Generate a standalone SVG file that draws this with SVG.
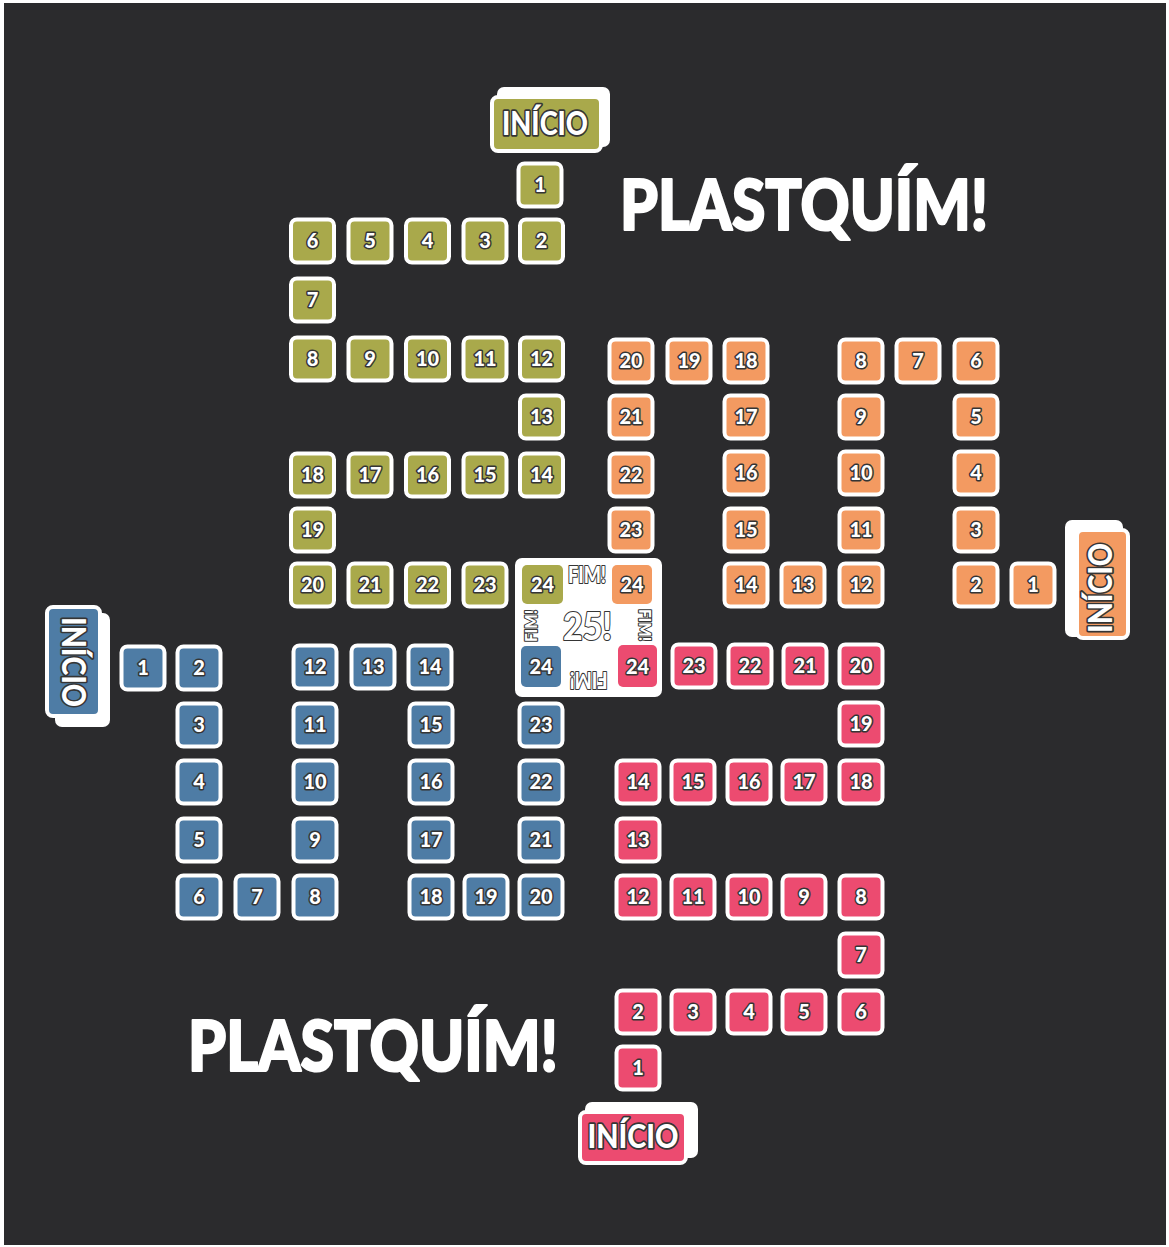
<svg xmlns="http://www.w3.org/2000/svg" width="1169" height="1247" viewBox="0 0 1169 1247">
<defs>
<style>
.t rect{stroke:#fff;stroke-width:4}
.g{fill:#a9a94b}.o{fill:#f39a61}.b{fill:#4e7ca5}.r{fill:#ec4b70}
.n{font-family:Lato,"Open Sans","DejaVu Sans",sans-serif;font-weight:900;font-size:20px;fill:#fff;stroke:#353535;stroke-width:3px;paint-order:stroke;text-anchor:middle;stroke-linejoin:round}
.lbl{font-family:Lato,"Open Sans","DejaVu Sans",sans-serif;font-weight:900;font-size:32px;fill:#fff;stroke:#353535;stroke-width:3.5px;paint-order:stroke;text-anchor:middle;stroke-linejoin:round}
.fim{font-family:Lato,"Open Sans","DejaVu Sans",sans-serif;font-weight:900;fill:#fff;stroke:#353535;stroke-width:2.2px;paint-order:stroke;text-anchor:middle;stroke-linejoin:round}
.title{font-family:Lato,"Open Sans","DejaVu Sans",sans-serif;font-weight:900;font-size:70px;fill:#fff;stroke:#fff;stroke-width:2.2px;stroke-linejoin:round}
.back{fill:#fff}
</style>
</defs>
<rect x="0" y="0" width="1169" height="1247" fill="#ffffff"/>
<rect x="4" y="3" width="1162" height="1242" fill="#2b2b2d"/>

<g id="connectors"></g>

<text class="title" x="620" y="230" textLength="368" lengthAdjust="spacingAndGlyphs">PLASTQUÍM!</text>
<text class="title" x="188" y="1071" textLength="370" lengthAdjust="spacingAndGlyphs">PLASTQUÍM!</text>

<!-- INICIO labels -->
<g id="inicio-green">
<rect class="back" x="497" y="87" width="113" height="60" rx="7"/>
<rect x="492" y="97" width="109" height="54" rx="6" class="g" stroke="#fff" stroke-width="4"/>
<text class="lbl" x="545" y="135" textLength="86" lengthAdjust="spacingAndGlyphs">INÍCIO</text>
</g>
<g id="inicio-orange">
<rect class="back" x="1065" y="520" width="58" height="117" rx="7"/>
<rect x="1077" y="530" width="51" height="108" rx="6" class="o" stroke="#fff" stroke-width="4"/>
<text class="lbl" transform="translate(1100,588) rotate(-90)" x="0" y="11.5" textLength="90" lengthAdjust="spacingAndGlyphs">INÍCIO</text>
</g>
<g id="inicio-blue">
<rect class="back" x="55" y="613" width="55" height="114" rx="7"/>
<rect x="47" y="607" width="53" height="109" rx="6" class="b" stroke="#fff" stroke-width="4"/>
<text class="lbl" transform="translate(73,662) rotate(90)" x="0" y="11.5" textLength="90" lengthAdjust="spacingAndGlyphs">INÍCIO</text>
</g>
<g id="inicio-red">
<rect class="back" x="585" y="1102" width="113" height="56" rx="7"/>
<rect x="580" y="1112" width="106" height="51" rx="6" class="r" stroke="#fff" stroke-width="4"/>
<text class="lbl" x="633" y="1148" textLength="91" lengthAdjust="spacingAndGlyphs">INÍCIO</text>
</g>

<!-- center -->
<g id="center">
<rect x="515" y="558" width="147" height="139" rx="7" fill="#fff"/>
<rect x="522" y="565" width="41" height="39" rx="5" class="g"/>
<text class="n" x="542.5" y="592" font-size="21">24</text>
<rect x="612" y="565" width="40" height="39" rx="5" class="o"/>
<text class="n" x="632" y="592" font-size="21">24</text>
<rect x="521" y="646" width="40" height="41" rx="5" class="b"/>
<text class="n" x="541" y="674" font-size="21">24</text>
<rect x="618" y="645" width="39" height="42" rx="5" class="r"/>
<text class="n" x="637.5" y="674" font-size="21">24</text>
<text class="fim" x="587" y="583" font-size="22" textLength="38" lengthAdjust="spacingAndGlyphs">FIM!</text>
<text class="fim" x="587.5" y="640" font-size="37" textLength="49" lengthAdjust="spacingAndGlyphs" stroke-width="2.8">25!</text>
<text class="fim" transform="translate(531,626) rotate(-90)" x="0" y="6" font-size="17" textLength="32" lengthAdjust="spacingAndGlyphs">FIM!</text>
<text class="fim" transform="translate(645,625) rotate(90)" x="0" y="6" font-size="17" textLength="32" lengthAdjust="spacingAndGlyphs">FIM!</text>
<text class="fim" transform="translate(588.5,679.5) rotate(180)" x="0" y="8" font-size="22" textLength="38" lengthAdjust="spacingAndGlyphs">FIM!</text>
</g>

<!-- green tiles -->
<g id="green" class="t">
<g id="g1" transform="translate(540,185)"><rect class="g" x="-21.5" y="-21.5" width="43" height="43" rx="6"/><text class="n" y="7">1</text></g>
<g id="g2" transform="translate(541.5,241)"><rect class="g" x="-21.5" y="-21.5" width="43" height="43" rx="6"/><text class="n" y="7">2</text></g>
<g id="g3" transform="translate(485,241)"><rect class="g" x="-21.5" y="-21.5" width="43" height="43" rx="6"/><text class="n" y="7">3</text></g>
<g id="g4" transform="translate(427.5,241)"><rect class="g" x="-21.5" y="-21.5" width="43" height="43" rx="6"/><text class="n" y="7">4</text></g>
<g id="g5" transform="translate(370,241)"><rect class="g" x="-21.5" y="-21.5" width="43" height="43" rx="6"/><text class="n" y="7">5</text></g>
<g id="g6" transform="translate(312.5,241)"><rect class="g" x="-21.5" y="-21.5" width="43" height="43" rx="6"/><text class="n" y="7">6</text></g>
<g id="g7" transform="translate(312.5,300)"><rect class="g" x="-21.5" y="-21.5" width="43" height="43" rx="6"/><text class="n" y="7">7</text></g>
<g id="g8" transform="translate(312.5,359)"><rect class="g" x="-21.5" y="-21.5" width="43" height="43" rx="6"/><text class="n" y="7">8</text></g>
<g id="g9" transform="translate(370,359)"><rect class="g" x="-21.5" y="-21.5" width="43" height="43" rx="6"/><text class="n" y="7">9</text></g>
<g id="g10" transform="translate(427.5,359)"><rect class="g" x="-21.5" y="-21.5" width="43" height="43" rx="6"/><text class="n" y="7">10</text></g>
<g id="g11" transform="translate(485,359)"><rect class="g" x="-21.5" y="-21.5" width="43" height="43" rx="6"/><text class="n" y="7">11</text></g>
<g id="g12" transform="translate(541.5,359)"><rect class="g" x="-21.5" y="-21.5" width="43" height="43" rx="6"/><text class="n" y="7">12</text></g>
<g id="g13" transform="translate(541.5,417)"><rect class="g" x="-21.5" y="-21.5" width="43" height="43" rx="6"/><text class="n" y="7">13</text></g>
<g id="g14" transform="translate(541.5,475)"><rect class="g" x="-21.5" y="-21.5" width="43" height="43" rx="6"/><text class="n" y="7">14</text></g>
<g id="g15" transform="translate(485,475)"><rect class="g" x="-21.5" y="-21.5" width="43" height="43" rx="6"/><text class="n" y="7">15</text></g>
<g id="g16" transform="translate(427.5,475)"><rect class="g" x="-21.5" y="-21.5" width="43" height="43" rx="6"/><text class="n" y="7">16</text></g>
<g id="g17" transform="translate(370,475)"><rect class="g" x="-21.5" y="-21.5" width="43" height="43" rx="6"/><text class="n" y="7">17</text></g>
<g id="g18" transform="translate(312.5,475)"><rect class="g" x="-21.5" y="-21.5" width="43" height="43" rx="6"/><text class="n" y="7">18</text></g>
<g id="g19" transform="translate(312.5,530)"><rect class="g" x="-21.5" y="-21.5" width="43" height="43" rx="6"/><text class="n" y="7">19</text></g>
<g id="g20" transform="translate(312.5,585)"><rect class="g" x="-21.5" y="-21.5" width="43" height="43" rx="6"/><text class="n" y="7">20</text></g>
<g id="g21" transform="translate(370,585)"><rect class="g" x="-21.5" y="-21.5" width="43" height="43" rx="6"/><text class="n" y="7">21</text></g>
<g id="g22" transform="translate(427.5,585)"><rect class="g" x="-21.5" y="-21.5" width="43" height="43" rx="6"/><text class="n" y="7">22</text></g>
<g id="g23" transform="translate(485,585)"><rect class="g" x="-21.5" y="-21.5" width="43" height="43" rx="6"/><text class="n" y="7">23</text></g>
</g>

<!-- orange tiles -->
<g id="orange" class="t">
<g id="o1" transform="translate(1033,585)"><rect class="o" x="-21.5" y="-21.5" width="43" height="43" rx="6"/><text class="n" y="7">1</text></g>
<g id="o2" transform="translate(976,585)"><rect class="o" x="-21.5" y="-21.5" width="43" height="43" rx="6"/><text class="n" y="7">2</text></g>
<g id="o3" transform="translate(976,530)"><rect class="o" x="-21.5" y="-21.5" width="43" height="43" rx="6"/><text class="n" y="7">3</text></g>
<g id="o4" transform="translate(976,473)"><rect class="o" x="-21.5" y="-21.5" width="43" height="43" rx="6"/><text class="n" y="7">4</text></g>
<g id="o5" transform="translate(976,417)"><rect class="o" x="-21.5" y="-21.5" width="43" height="43" rx="6"/><text class="n" y="7">5</text></g>
<g id="o6" transform="translate(976,361)"><rect class="o" x="-21.5" y="-21.5" width="43" height="43" rx="6"/><text class="n" y="7">6</text></g>
<g id="o7" transform="translate(918,361)"><rect class="o" x="-21.5" y="-21.5" width="43" height="43" rx="6"/><text class="n" y="7">7</text></g>
<g id="o8" transform="translate(861,361)"><rect class="o" x="-21.5" y="-21.5" width="43" height="43" rx="6"/><text class="n" y="7">8</text></g>
<g id="o9" transform="translate(861,417)"><rect class="o" x="-21.5" y="-21.5" width="43" height="43" rx="6"/><text class="n" y="7">9</text></g>
<g id="o10" transform="translate(861,473)"><rect class="o" x="-21.5" y="-21.5" width="43" height="43" rx="6"/><text class="n" y="7">10</text></g>
<g id="o11" transform="translate(861,530)"><rect class="o" x="-21.5" y="-21.5" width="43" height="43" rx="6"/><text class="n" y="7">11</text></g>
<g id="o12" transform="translate(861,585)"><rect class="o" x="-21.5" y="-21.5" width="43" height="43" rx="6"/><text class="n" y="7">12</text></g>
<g id="o13" transform="translate(803,585)"><rect class="o" x="-21.5" y="-21.5" width="43" height="43" rx="6"/><text class="n" y="7">13</text></g>
<g id="o14" transform="translate(746,585)"><rect class="o" x="-21.5" y="-21.5" width="43" height="43" rx="6"/><text class="n" y="7">14</text></g>
<g id="o15" transform="translate(746,530)"><rect class="o" x="-21.5" y="-21.5" width="43" height="43" rx="6"/><text class="n" y="7">15</text></g>
<g id="o16" transform="translate(746,473)"><rect class="o" x="-21.5" y="-21.5" width="43" height="43" rx="6"/><text class="n" y="7">16</text></g>
<g id="o17" transform="translate(746,417)"><rect class="o" x="-21.5" y="-21.5" width="43" height="43" rx="6"/><text class="n" y="7">17</text></g>
<g id="o18" transform="translate(746,361)"><rect class="o" x="-21.5" y="-21.5" width="43" height="43" rx="6"/><text class="n" y="7">18</text></g>
<g id="o19" transform="translate(689,361)"><rect class="o" x="-21.5" y="-21.5" width="43" height="43" rx="6"/><text class="n" y="7">19</text></g>
<g id="o20" transform="translate(631,361)"><rect class="o" x="-21.5" y="-21.5" width="43" height="43" rx="6"/><text class="n" y="7">20</text></g>
<g id="o21" transform="translate(631,417)"><rect class="o" x="-21.5" y="-21.5" width="43" height="43" rx="6"/><text class="n" y="7">21</text></g>
<g id="o22" transform="translate(631,475)"><rect class="o" x="-21.5" y="-21.5" width="43" height="43" rx="6"/><text class="n" y="7">22</text></g>
<g id="o23" transform="translate(631,530)"><rect class="o" x="-21.5" y="-21.5" width="43" height="43" rx="6"/><text class="n" y="7">23</text></g>
</g>

<!-- blue tiles -->
<g id="blue" class="t">
<g id="b1" transform="translate(143,668)"><rect class="b" x="-21.5" y="-21.5" width="43" height="43" rx="6"/><text class="n" y="7">1</text></g>
<g id="b2" transform="translate(199,668)"><rect class="b" x="-21.5" y="-21.5" width="43" height="43" rx="6"/><text class="n" y="7">2</text></g>
<g id="b3" transform="translate(199,725)"><rect class="b" x="-21.5" y="-21.5" width="43" height="43" rx="6"/><text class="n" y="7">3</text></g>
<g id="b4" transform="translate(199,782)"><rect class="b" x="-21.5" y="-21.5" width="43" height="43" rx="6"/><text class="n" y="7">4</text></g>
<g id="b5" transform="translate(199,840)"><rect class="b" x="-21.5" y="-21.5" width="43" height="43" rx="6"/><text class="n" y="7">5</text></g>
<g id="b6" transform="translate(199,897)"><rect class="b" x="-21.5" y="-21.5" width="43" height="43" rx="6"/><text class="n" y="7">6</text></g>
<g id="b7" transform="translate(257,897)"><rect class="b" x="-21.5" y="-21.5" width="43" height="43" rx="6"/><text class="n" y="7">7</text></g>
<g id="b8" transform="translate(315,897)"><rect class="b" x="-21.5" y="-21.5" width="43" height="43" rx="6"/><text class="n" y="7">8</text></g>
<g id="b9" transform="translate(315,840)"><rect class="b" x="-21.5" y="-21.5" width="43" height="43" rx="6"/><text class="n" y="7">9</text></g>
<g id="b10" transform="translate(315,782)"><rect class="b" x="-21.5" y="-21.5" width="43" height="43" rx="6"/><text class="n" y="7">10</text></g>
<g id="b11" transform="translate(315,725)"><rect class="b" x="-21.5" y="-21.5" width="43" height="43" rx="6"/><text class="n" y="7">11</text></g>
<g id="b12" transform="translate(315,667)"><rect class="b" x="-21.5" y="-21.5" width="43" height="43" rx="6"/><text class="n" y="7">12</text></g>
<g id="b13" transform="translate(373,667)"><rect class="b" x="-21.5" y="-21.5" width="43" height="43" rx="6"/><text class="n" y="7">13</text></g>
<g id="b14" transform="translate(430,667)"><rect class="b" x="-21.5" y="-21.5" width="43" height="43" rx="6"/><text class="n" y="7">14</text></g>
<g id="b15" transform="translate(431,725)"><rect class="b" x="-21.5" y="-21.5" width="43" height="43" rx="6"/><text class="n" y="7">15</text></g>
<g id="b16" transform="translate(431,782)"><rect class="b" x="-21.5" y="-21.5" width="43" height="43" rx="6"/><text class="n" y="7">16</text></g>
<g id="b17" transform="translate(431,840)"><rect class="b" x="-21.5" y="-21.5" width="43" height="43" rx="6"/><text class="n" y="7">17</text></g>
<g id="b18" transform="translate(431,897)"><rect class="b" x="-21.5" y="-21.5" width="43" height="43" rx="6"/><text class="n" y="7">18</text></g>
<g id="b19" transform="translate(486,897)"><rect class="b" x="-21.5" y="-21.5" width="43" height="43" rx="6"/><text class="n" y="7">19</text></g>
<g id="b20" transform="translate(541,897)"><rect class="b" x="-21.5" y="-21.5" width="43" height="43" rx="6"/><text class="n" y="7">20</text></g>
<g id="b21" transform="translate(541,840)"><rect class="b" x="-21.5" y="-21.5" width="43" height="43" rx="6"/><text class="n" y="7">21</text></g>
<g id="b22" transform="translate(541,782)"><rect class="b" x="-21.5" y="-21.5" width="43" height="43" rx="6"/><text class="n" y="7">22</text></g>
<g id="b23" transform="translate(541,725)"><rect class="b" x="-21.5" y="-21.5" width="43" height="43" rx="6"/><text class="n" y="7">23</text></g>
</g>

<!-- red tiles -->
<g id="red" class="t">
<g id="r1" transform="translate(638,1068)"><rect class="r" x="-21.5" y="-21.5" width="43" height="43" rx="6"/><text class="n" y="7">1</text></g>
<g id="r2" transform="translate(638,1012)"><rect class="r" x="-21.5" y="-21.5" width="43" height="43" rx="6"/><text class="n" y="7">2</text></g>
<g id="r3" transform="translate(693,1012)"><rect class="r" x="-21.5" y="-21.5" width="43" height="43" rx="6"/><text class="n" y="7">3</text></g>
<g id="r4" transform="translate(749,1012)"><rect class="r" x="-21.5" y="-21.5" width="43" height="43" rx="6"/><text class="n" y="7">4</text></g>
<g id="r5" transform="translate(804,1012)"><rect class="r" x="-21.5" y="-21.5" width="43" height="43" rx="6"/><text class="n" y="7">5</text></g>
<g id="r6" transform="translate(861,1012)"><rect class="r" x="-21.5" y="-21.5" width="43" height="43" rx="6"/><text class="n" y="7">6</text></g>
<g id="r7" transform="translate(861,955)"><rect class="r" x="-21.5" y="-21.5" width="43" height="43" rx="6"/><text class="n" y="7">7</text></g>
<g id="r8" transform="translate(861,897)"><rect class="r" x="-21.5" y="-21.5" width="43" height="43" rx="6"/><text class="n" y="7">8</text></g>
<g id="r9" transform="translate(804,897)"><rect class="r" x="-21.5" y="-21.5" width="43" height="43" rx="6"/><text class="n" y="7">9</text></g>
<g id="r10" transform="translate(749,897)"><rect class="r" x="-21.5" y="-21.5" width="43" height="43" rx="6"/><text class="n" y="7">10</text></g>
<g id="r11" transform="translate(693,897)"><rect class="r" x="-21.5" y="-21.5" width="43" height="43" rx="6"/><text class="n" y="7">11</text></g>
<g id="r12" transform="translate(638,897)"><rect class="r" x="-21.5" y="-21.5" width="43" height="43" rx="6"/><text class="n" y="7">12</text></g>
<g id="r13" transform="translate(638,840)"><rect class="r" x="-21.5" y="-21.5" width="43" height="43" rx="6"/><text class="n" y="7">13</text></g>
<g id="r14" transform="translate(638,782)"><rect class="r" x="-21.5" y="-21.5" width="43" height="43" rx="6"/><text class="n" y="7">14</text></g>
<g id="r15" transform="translate(693,782)"><rect class="r" x="-21.5" y="-21.5" width="43" height="43" rx="6"/><text class="n" y="7">15</text></g>
<g id="r16" transform="translate(749,782)"><rect class="r" x="-21.5" y="-21.5" width="43" height="43" rx="6"/><text class="n" y="7">16</text></g>
<g id="r17" transform="translate(804,782)"><rect class="r" x="-21.5" y="-21.5" width="43" height="43" rx="6"/><text class="n" y="7">17</text></g>
<g id="r18" transform="translate(861,782)"><rect class="r" x="-21.5" y="-21.5" width="43" height="43" rx="6"/><text class="n" y="7">18</text></g>
<g id="r19" transform="translate(861,724)"><rect class="r" x="-21.5" y="-21.5" width="43" height="43" rx="6"/><text class="n" y="7">19</text></g>
<g id="r20" transform="translate(861,666)"><rect class="r" x="-21.5" y="-21.5" width="43" height="43" rx="6"/><text class="n" y="7">20</text></g>
<g id="r21" transform="translate(805,666)"><rect class="r" x="-21.5" y="-21.5" width="43" height="43" rx="6"/><text class="n" y="7">21</text></g>
<g id="r22" transform="translate(750,666)"><rect class="r" x="-21.5" y="-21.5" width="43" height="43" rx="6"/><text class="n" y="7">22</text></g>
<g id="r23" transform="translate(694,666)"><rect class="r" x="-21.5" y="-21.5" width="43" height="43" rx="6"/><text class="n" y="7">23</text></g>
</g>
</svg>
